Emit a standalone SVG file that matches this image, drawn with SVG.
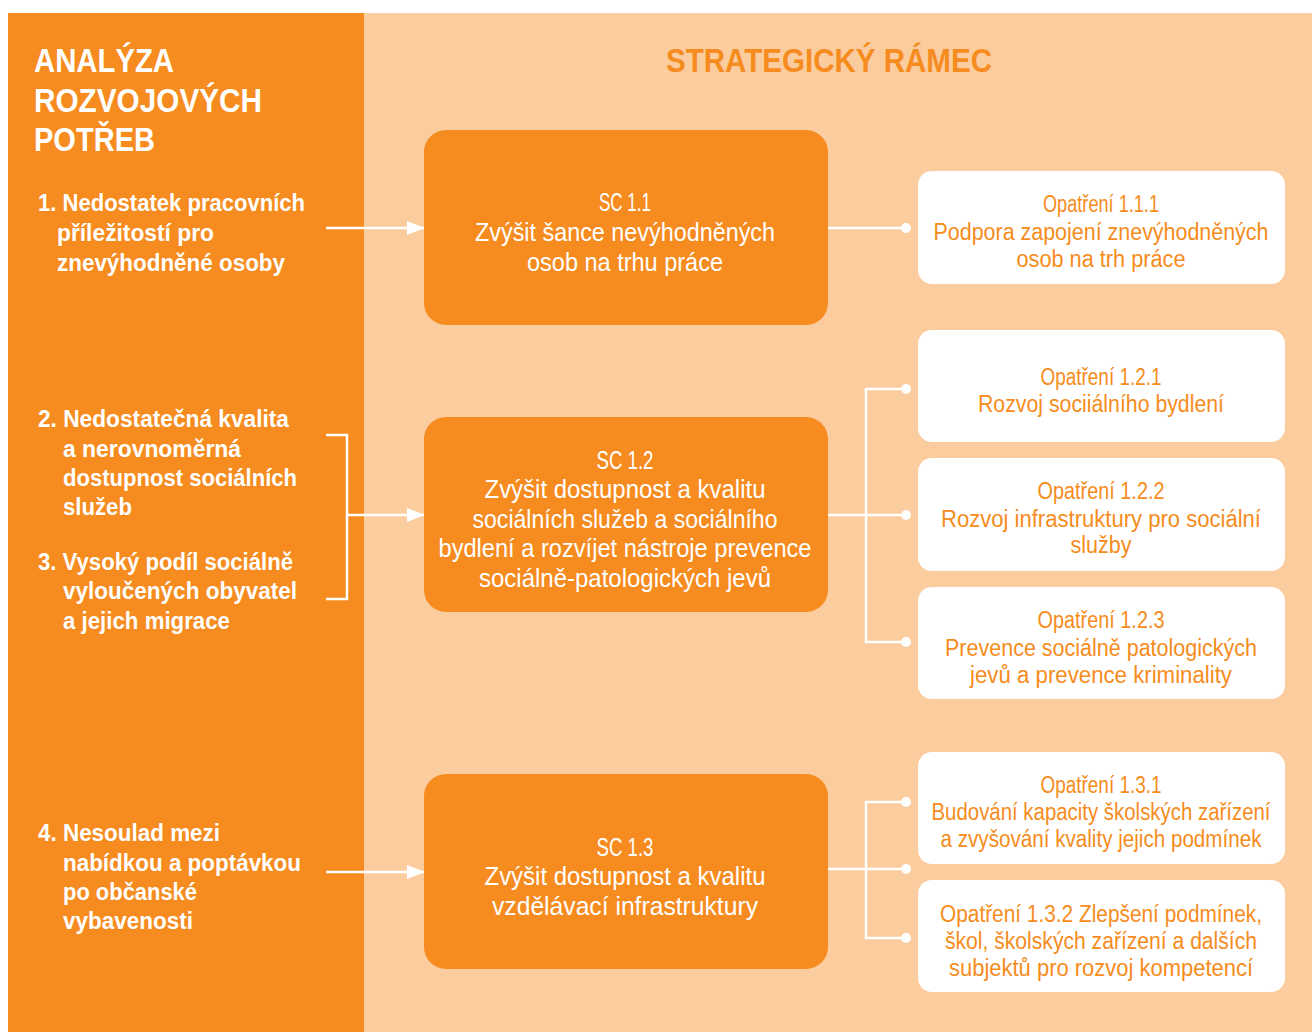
<svg xmlns="http://www.w3.org/2000/svg" width="1312" height="1032" viewBox="0 0 1312 1032">
<style>
.bgL{fill:#F68C20}
.bgR{fill:#FACC9E}
.sc{fill:#F68C20}
.op{fill:#FFFFFF}
text{font-family:"Liberation Sans",Arial,sans-serif}
.title{font-weight:bold;fill:#FFFFFF;font-size:34px}
.stitle{font-weight:bold;fill:#F68C20;font-size:34px;text-anchor:middle}
.need{font-weight:bold;fill:#FFFFFF;font-size:23px}
.sct{fill:#FFFFFF;font-size:25px;text-anchor:middle}
.opt{fill:#F68C20;font-size:23px;text-anchor:middle}
.ln{stroke:#FFFFFF;stroke-width:2.5;fill:none}
.dot{fill:#FFFFFF}
</style>
<defs>
<marker id="arr" markerWidth="18" markerHeight="16" refX="17" refY="8" orient="auto" markerUnits="userSpaceOnUse">
<path d="M0,1 L18,8 L0,15 Z" fill="#FFFFFF"/>
</marker>
</defs>
<rect x="0" y="0" width="1312" height="1032" fill="#FFFFFF"/>
<rect class="bgL" x="8" y="13" width="356" height="1019"/>
<rect class="bgR" x="364" y="13" width="948" height="1019"/>

<g id="title-left">
<text class="title" x="34" y="72" textLength="140" lengthAdjust="spacingAndGlyphs">ANALÝZA</text>
<text class="title" x="34" y="112" textLength="228" lengthAdjust="spacingAndGlyphs">ROZVOJOVÝCH</text>
<text class="title" x="34" y="151" textLength="121" lengthAdjust="spacingAndGlyphs">POTŘEB</text>
</g>
<g id="title-right">
<text class="stitle" x="829" y="72" textLength="326" lengthAdjust="spacingAndGlyphs">STRATEGICKÝ RÁMEC</text>
</g>

<g id="need1">
<text class="need" x="38" y="211" textLength="267" lengthAdjust="spacingAndGlyphs">1. Nedostatek pracovních</text>
<text class="need" x="57" y="241" textLength="157" lengthAdjust="spacingAndGlyphs">příležitostí pro</text>
<text class="need" x="57" y="271" textLength="228" lengthAdjust="spacingAndGlyphs">znevýhodněné osoby</text>
</g>
<g id="need2">
<text class="need" x="38" y="427" textLength="251" lengthAdjust="spacingAndGlyphs">2. Nedostatečná kvalita</text>
<text class="need" x="63" y="457" textLength="178" lengthAdjust="spacingAndGlyphs">a nerovnoměrná</text>
<text class="need" x="63" y="486" textLength="234" lengthAdjust="spacingAndGlyphs">dostupnost sociálních</text>
<text class="need" x="63" y="515" textLength="69" lengthAdjust="spacingAndGlyphs">služeb</text>
</g>
<g id="need3">
<text class="need" x="38" y="570" textLength="255" lengthAdjust="spacingAndGlyphs">3. Vysoký podíl sociálně</text>
<text class="need" x="63" y="599" textLength="234" lengthAdjust="spacingAndGlyphs">vyloučených obyvatel</text>
<text class="need" x="63" y="629" textLength="167" lengthAdjust="spacingAndGlyphs">a jejich migrace</text>
</g>
<g id="need4">
<text class="need" x="38" y="841" textLength="182" lengthAdjust="spacingAndGlyphs">4. Nesoulad mezi</text>
<text class="need" x="63" y="871" textLength="238" lengthAdjust="spacingAndGlyphs">nabídkou a poptávkou</text>
<text class="need" x="63" y="900" textLength="134" lengthAdjust="spacingAndGlyphs">po občanské</text>
<text class="need" x="63" y="929" textLength="130" lengthAdjust="spacingAndGlyphs">vybavenosti</text>
</g>

<g id="connectors">
<line class="ln" x1="326" y1="228" x2="424" y2="228" marker-end="url(#arr)"/>
<polyline class="ln" points="326,435 347,435 347,599 326,599"/>
<line class="ln" x1="347" y1="515" x2="424" y2="515" marker-end="url(#arr)"/>
<line class="ln" x1="326" y1="872" x2="424" y2="872" marker-end="url(#arr)"/>

<line class="ln" x1="828" y1="228" x2="906" y2="228"/>
<circle class="dot" cx="906" cy="228" r="5"/>

<line class="ln" x1="828" y1="515" x2="906" y2="515"/>
<polyline class="ln" points="906,389 866,389 866,642 906,642"/>
<circle class="dot" cx="906" cy="389" r="5"/>
<circle class="dot" cx="906" cy="515" r="5"/>
<circle class="dot" cx="906" cy="642" r="5"/>

<line class="ln" x1="828" y1="869" x2="906" y2="869"/>
<polyline class="ln" points="906,802 866,802 866,938 906,938"/>
<circle class="dot" cx="906" cy="802" r="5"/>
<circle class="dot" cx="906" cy="869" r="5"/>
<circle class="dot" cx="906" cy="938" r="5"/>
</g>

<g id="sc11">
<rect class="sc" x="424" y="130" width="404" height="195" rx="22"/>
<text class="sct" x="625" y="211" textLength="52" lengthAdjust="spacingAndGlyphs">SC 1.1</text>
<text class="sct" x="625" y="241" textLength="300" lengthAdjust="spacingAndGlyphs">Zvýšit šance nevýhodněných</text>
<text class="sct" x="625" y="271" textLength="196" lengthAdjust="spacingAndGlyphs">osob na trhu práce</text>
</g>
<g id="sc12">
<rect class="sc" x="424" y="417" width="404" height="195" rx="22"/>
<text class="sct" x="625" y="469" textLength="57" lengthAdjust="spacingAndGlyphs">SC 1.2</text>
<text class="sct" x="625" y="498" textLength="281" lengthAdjust="spacingAndGlyphs">Zvýšit dostupnost a kvalitu</text>
<text class="sct" x="625" y="528" textLength="305" lengthAdjust="spacingAndGlyphs">sociálních služeb a sociálního</text>
<text class="sct" x="625" y="557" textLength="373" lengthAdjust="spacingAndGlyphs">bydlení a rozvíjet nástroje prevence</text>
<text class="sct" x="625" y="587" textLength="292" lengthAdjust="spacingAndGlyphs">sociálně-patologických jevů</text>
</g>
<g id="sc13">
<rect class="sc" x="424" y="774" width="404" height="195" rx="22"/>
<text class="sct" x="625" y="856" textLength="57" lengthAdjust="spacingAndGlyphs">SC 1.3</text>
<text class="sct" x="625" y="885" textLength="281" lengthAdjust="spacingAndGlyphs">Zvýšit dostupnost a kvalitu</text>
<text class="sct" x="625" y="915" textLength="266" lengthAdjust="spacingAndGlyphs">vzdělávací infrastruktury</text>
</g>

<g id="op111">
<rect class="op" x="918" y="171" width="367" height="113" rx="14"/>
<text class="opt" x="1101" y="212" textLength="116" lengthAdjust="spacingAndGlyphs">Opatření 1.1.1</text>
<text class="opt" x="1101" y="240" textLength="335" lengthAdjust="spacingAndGlyphs">Podpora zapojení znevýhodněných</text>
<text class="opt" x="1101" y="267" textLength="169" lengthAdjust="spacingAndGlyphs">osob na trh práce</text>
</g>
<g id="op121">
<rect class="op" x="918" y="330" width="367" height="112" rx="14"/>
<text class="opt" x="1101" y="385" textLength="121" lengthAdjust="spacingAndGlyphs">Opatření 1.2.1</text>
<text class="opt" x="1101" y="412" textLength="246" lengthAdjust="spacingAndGlyphs">Rozvoj sociiálního bydlení</text>
</g>
<g id="op122">
<rect class="op" x="918" y="458" width="367" height="113" rx="14"/>
<text class="opt" x="1101" y="499" textLength="127" lengthAdjust="spacingAndGlyphs">Opatření 1.2.2</text>
<text class="opt" x="1101" y="527" textLength="320" lengthAdjust="spacingAndGlyphs">Rozvoj infrastruktury pro sociální</text>
<text class="opt" x="1101" y="553" textLength="61" lengthAdjust="spacingAndGlyphs">služby</text>
</g>
<g id="op123">
<rect class="op" x="918" y="587" width="367" height="112" rx="14"/>
<text class="opt" x="1101" y="628" textLength="127" lengthAdjust="spacingAndGlyphs">Opatření 1.2.3</text>
<text class="opt" x="1101" y="656" textLength="312" lengthAdjust="spacingAndGlyphs">Prevence sociálně patologických</text>
<text class="opt" x="1101" y="683" textLength="262" lengthAdjust="spacingAndGlyphs">jevů a prevence kriminality</text>
</g>
<g id="op131">
<rect class="op" x="918" y="752" width="367" height="112" rx="14"/>
<text class="opt" x="1101" y="793" textLength="121" lengthAdjust="spacingAndGlyphs">Opatření 1.3.1</text>
<text class="opt" x="1101" y="820" textLength="339" lengthAdjust="spacingAndGlyphs">Budování kapacity školských zařízení</text>
<text class="opt" x="1101" y="847" textLength="321" lengthAdjust="spacingAndGlyphs">a zvyšování kvality jejich podmínek</text>
</g>
<g id="op132">
<rect class="op" x="918" y="880" width="367" height="112" rx="14"/>
<text class="opt" x="1101" y="922" textLength="322" lengthAdjust="spacingAndGlyphs">Opatření 1.3.2 Zlepšení podmínek,</text>
<text class="opt" x="1101" y="949" textLength="312" lengthAdjust="spacingAndGlyphs">škol, školských zařízení a dalších</text>
<text class="opt" x="1101" y="976" textLength="304" lengthAdjust="spacingAndGlyphs">subjektů pro rozvoj kompetencí</text>
</g>
</svg>
